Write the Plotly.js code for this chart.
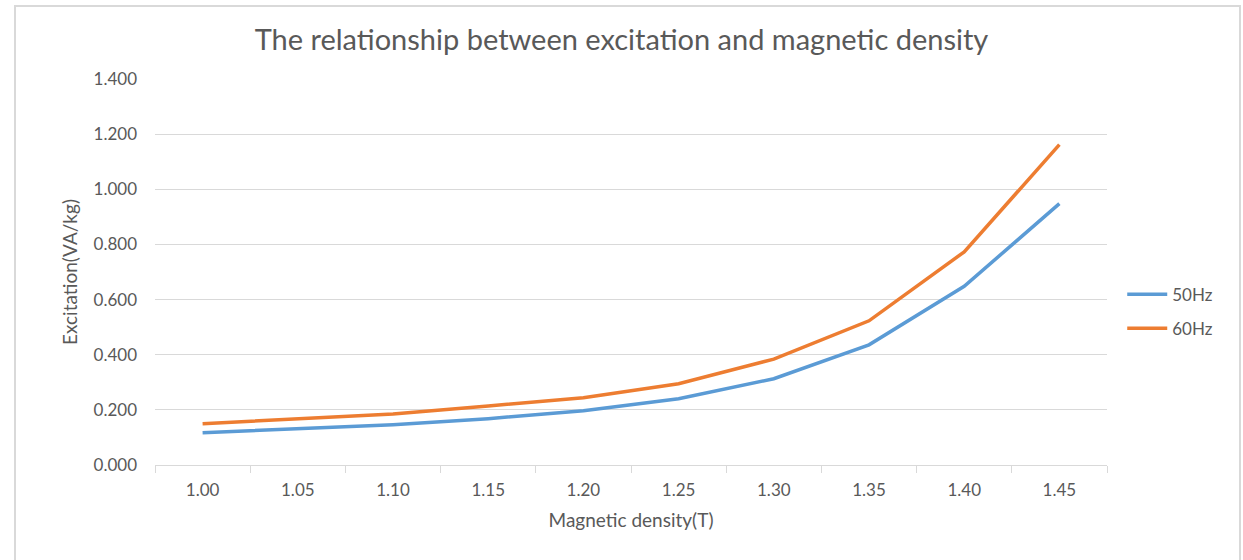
<!DOCTYPE html>
<html>
<head>
<meta charset="utf-8">
<script src="https://cdn.plot.ly/plotly-3.0.1.min.js"></script>
<style>
  html, body { margin: 0; padding: 0; background: #fff; overflow: hidden; }
  #wrap { position: relative; width: 1243px; height: 560px; }
  #chart { position: absolute; left: 0; top: 0; width: 1243px; height: 560px; }
  #frame { position: absolute; left: 14px; top: 5px; width: 1223px; height: 600px;
           border: 2px solid #d9d9d9; pointer-events: none; }
</style>
</head>
<body>
<div id="wrap">
  <div id="chart"></div>
  <div id="frame"></div>
</div>
<script>
const categories = ["1.00", "1.05", "1.10", "1.15", "1.20", "1.25", "1.30", "1.35", "1.40", "1.45"];
const hz50 = [0.117, 0.132, 0.146, 0.168, 0.197, 0.240, 0.313, 0.436, 0.648, 0.948];
const hz60 = [0.150, 0.167, 0.185, 0.214, 0.244, 0.295, 0.384, 0.523, 0.773, 1.162];
const seriesNames = ["50Hz", "60Hz"];

const FONT = "Lato, 'Open Sans', sans-serif";
const traces = [
  { x: categories, y: hz50, name: seriesNames[0], legendgroup: "a", type: "scatter", mode: "lines",
    line: { color: "#5b9bd5", width: 3.5 } },
  { x: categories, y: hz60, name: seriesNames[1], legendgroup: "b", type: "scatter", mode: "lines",
    line: { color: "#ed7d31", width: 3.5 } }
];

const layout = {
  width: 1243, height: 560,
  margin: { l: 155, r: 136, t: 79, b: 95 },
  paper_bgcolor: "rgba(0,0,0,0)", plot_bgcolor: "#fff",
  font: { family: FONT, color: "#595959", size: 16 },
  title: { text: "The relationship between excitation and magnetic density",
           font: { family: FONT, size: 29, color: "#595959" },
           x: 0.5, xanchor: "center", y: 0.928, yanchor: "middle" },
  xaxis: {
    type: "category", range: [-0.5, 9.5],
    showgrid: false, showline: true, linecolor: "#d9d9d9", linewidth: 1,
    ticks: "outside", tickson: "boundaries", ticklen: 7, tickcolor: "#d9d9d9",
    ticklabelstandoff: 10,
    tickfont: { size: 17, color: "#595959", family: FONT },
    title: { text: "Magnetic density(T)", font: { size: 19, color: "#595959", family: FONT }, standoff: 14 },
    zeroline: false, fixedrange: true
  },
  yaxis: {
    range: [0, 1.4], dtick: 0.2, tick0: 0, tickformat: ".3f",
    showgrid: true, gridcolor: "#d9d9d9", gridwidth: 1,
    showline: false, zeroline: false, ticks: "",
    ticklabelstandoff: 17,
    tickfont: { size: 17, color: "#595959", family: FONT },
    title: { text: "Excitation(VA/kg)", font: { size: 19, color: "#595959", family: FONT }, standoff: 10 },
    fixedrange: true
  },
  showlegend: true,
  legend: { x: 1.016, xanchor: "left", y: 0.488, yanchor: "top",
            font: { size: 17, color: "#595959", family: FONT },
            bgcolor: "rgba(0,0,0,0)", tracegroupgap: 9, itemwidth: 40 }
};

Plotly.newPlot("chart", traces, layout, { displayModeBar: false, staticPlot: true });
</script>
</body>
</html>
